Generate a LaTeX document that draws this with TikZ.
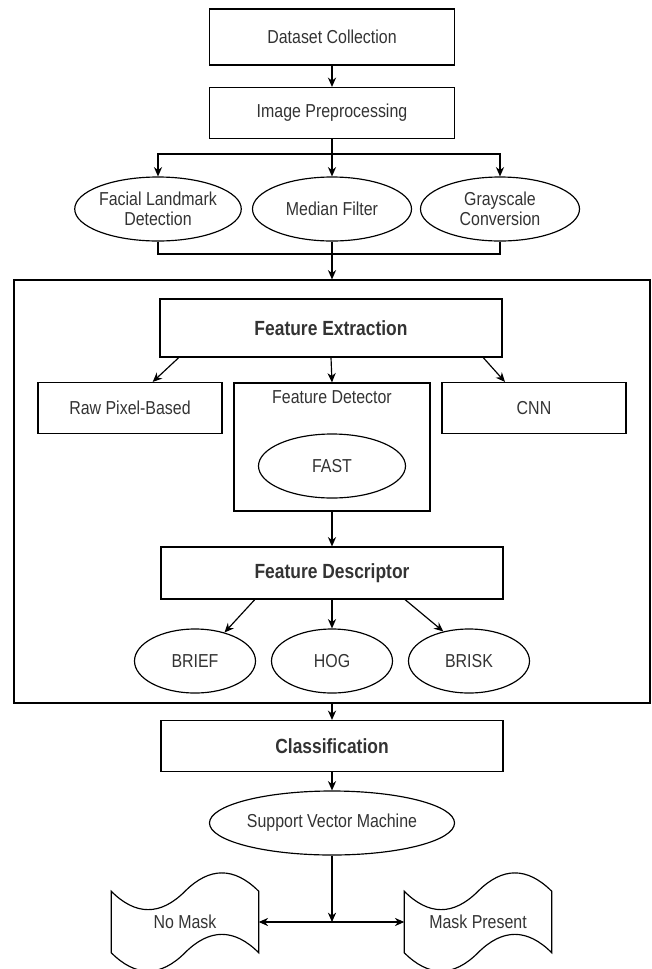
\documentclass[tikz,border=0pt]{standalone}
\usepackage{fontspec}
\setmainfont[FakeStretch=0.85]{Liberation Sans}
\usepackage{tikz}
\usetikzlibrary{shapes}
\usetikzlibrary{calc}
\usetikzlibrary{arrows.meta}
\usetikzlibrary{positioning}

% wavy outline round a named node
\newcommand{\drawtape}[1]{%
	\draw[outline] (#1.north west) .. controls +(24.5,24.5) and +(-24.5,24.5) .. (#1.north)
		.. controls +(24.5,-24.5) and +(-24.5,-24.5) .. (#1.north east) -- (#1.south east)
		.. controls +(-24.5,-24.5) and +(24.5,-24.5) .. (#1.south)
		.. controls +(-24.5,24.5) and +(24.5,24.5) .. (#1.south west) -- cycle;}

\begin{document}
\begin{tikzpicture}[x = 0.03cm, y = -0.03cm,
		every node/.style={text=black!80, font=\fontsize{16}{17.5}\selectfont},
		outline/.style={line width=1pt},
		box/.style={draw, rectangle, outline, inner sep=0pt},
		titlebox/.style={box, font=\fontsize{17.5}{19}\selectfont\bfseries},
		oval/.style={draw, ellipse, outline, inner sep=0pt, align=center},
		flow/.style={line width=1pt, ->},
		>={Stealth[length=8pt, width=7pt]}]
			 	\useasboundingbox (0, 0) rectangle (652, 969);
			 	
			 	% Nodes
			 	\node[box, minimum width=7.35cm, minimum height=1.68cm] (dataset) at (332, 37) {Dataset Collection};
			 	\node[box, minimum width=7.35cm, minimum height=1.53cm] (preproc) at (332, 113) {Image Preprocessing};
			 	\node[oval, minimum width=4.77cm, minimum height=1.92cm] (landmark) at (158, 209) {Facial Landmark\\Detection};
			 	\node[oval, minimum width=4.77cm, minimum height=1.92cm] (median) at (332, 209) {Median Filter};
			 	\node[oval, minimum width=4.77cm, minimum height=1.92cm] (grayscale) at (500, 209) {Grayscale\\Conversion};
			 	\coordinate (split) at (332, 154);
			 	\coordinate (join) at (332, 254);
			 	
			 	\node[box, minimum width=19.08cm, minimum height=12.69cm] (stage) at (332, 491.5) {};
			 	\node[titlebox, minimum width=10.26cm, minimum height=1.74cm] (featext) at (331, 328) {Feature Extraction};
			 	\node[box, minimum width=5.52cm, minimum height=1.53cm] (rawpix) at (130, 408) {Raw Pixel-Based};
			 	\node[box, minimum width=5.88cm, minimum height=3.84cm,
			 		label={[anchor=north, yshift=-0.12cm]north:Feature Detector}] (featdet) at (332, 447) {};
			 	\node[oval, minimum width=4.41cm, minimum height=1.92cm] (fast) at (332, 466) {FAST};
			 	\node[box, minimum width=5.52cm, minimum height=1.53cm] (cnn) at (534, 408) {CNN};
			 	\node[titlebox, minimum width=10.26cm, minimum height=1.56cm] (featdesc) at (332, 573) {Feature Descriptor};
			 	\node[oval, minimum width=3.63cm, minimum height=1.92cm] (brief) at (195, 661) {BRIEF};
			 	\node[oval, minimum width=3.63cm, minimum height=1.92cm] (hog) at (332, 661) {HOG};
			 	\node[oval, minimum width=3.63cm, minimum height=1.92cm] (brisk) at (469, 661) {BRISK};
			 	
			 	\node[titlebox, minimum width=10.26cm, minimum height=1.53cm] (classif) at (332, 746) {Classification};
			 	\node[oval, minimum width=7.35cm, minimum height=1.92cm] (svm) at (332, 823) {Support Vector Machine};
			 	\node[inner sep=0pt, minimum width=4.41cm, minimum height=1.83cm] (nomask) at (185, 922) {No Mask};
			 	\node[inner sep=0pt, minimum width=4.41cm, minimum height=1.83cm] (maskpres) at (478, 922) {Mask Present};
			 	\coordinate (fork) at (332, 922);
			 	\drawtape{nomask}
			 	\drawtape{maskpres}
			 	
			 	% Edges
			 	\draw[flow] (dataset) to (preproc);
			 	\draw[outline] (preproc.south) to (split);
			 	\draw[flow] (split) -| (landmark.north);
			 	\draw[flow] (split) to (median.north);
			 	\draw[flow] (split) -| (grayscale.north);
			 	\draw[outline] (landmark.south) |- (join);
			 	\draw[outline] (grayscale.south) |- (join);
			 	\draw[flow] (median.south) to (stage.north);
			 	\draw[flow] (featext.191) to (rawpix.49);
			 	\draw[flow] (featext.south) to (featdet.north);
			 	\draw[flow] (featext.349) to (cnn.138);
			 	\draw[flow] (featdet.south) to (featdesc.north);
			 	\draw[flow] (featdesc.199) to (brief.44);
			 	\draw[flow] (featdesc.south) to (hog.north);
			 	\draw[flow] (featdesc.340) to (brisk.131);
			 	\draw[flow] (stage.south) to (classif.north);
			 	\draw[flow] (classif.south) to (svm.north);
			 	\draw[flow] (svm.south) to (fork);
			 	\draw[line width=1pt, <->] (nomask.east) to (maskpres.west);
			\end{tikzpicture}
\end{document}
